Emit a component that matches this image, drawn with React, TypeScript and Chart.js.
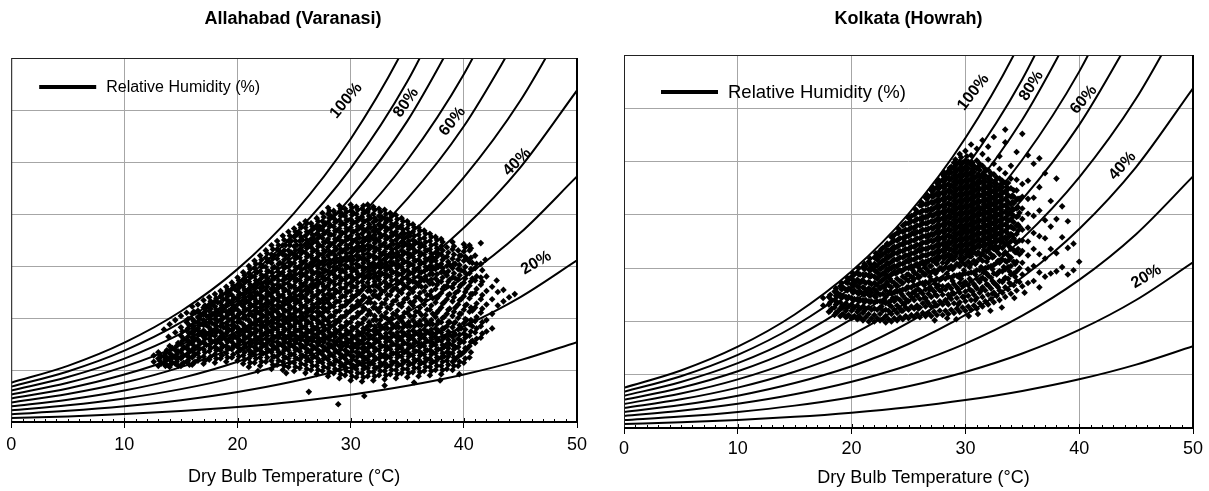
import React, { useEffect, useRef } from "react";
import { Chart, registerables } from "chart.js";

Chart.register(...registerables);

const FONT = "Arial, 'Liberation Sans', Helvetica, sans-serif";

// ---- axes ----
const tempMin = 0;
const tempMax = 50;
const tempStep = 10;
const humMin = 0; // humidity ratio, g/kg
const humMax = 35;
const humStep = 5;

// ---- relative humidity curves: humidity ratio (g/kg) at these dry-bulb temperatures ----
const curveTemps = [0, 5, 10, 15, 20, 25, 30, 35, 40, 45, 50];
const rhLevels = [100, 90, 80, 70, 60, 50, 40, 30, 20, 10];
const rh100 = [3.78, 5.4, 7.63, 10.65, 14.7, 20.09, 27.21, 36.58, 48.89];
const rh90 = [3.4, 4.86, 6.86, 9.57, 13.2, 18.02, 24.38, 32.73, 43.66];
const rh80 = [3.02, 4.32, 6.09, 8.49, 11.7, 15.97, 21.58, 28.93, 38.51];
const rh70 = [2.64, 3.77, 5.32, 7.42, 10.22, 13.93, 18.8, 25.17, 33.44, 44.15];
const rh60 = [2.26, 3.23, 4.56, 6.35, 8.74, 11.9, 16.05, 21.45, 28.44, 37.47];
const rh50 = [1.88, 2.69, 3.79, 5.28, 7.26, 9.88, 13.31, 17.77, 23.52, 30.91, 40.37];
const rh40 = [1.51, 2.15, 3.03, 4.22, 5.8, 7.88, 10.61, 14.14, 18.68, 24.49, 31.88];
const rh30 = [1.13, 1.61, 2.27, 3.16, 4.34, 5.89, 7.92, 10.54, 13.9, 18.19, 23.61];
const rh20 = [0.75, 1.07, 1.51, 2.1, 2.89, 3.92, 5.26, 6.99, 9.2, 12.01, 15.54];
const rh10 = [0.38, 0.54, 0.76, 1.05, 1.44, 1.95, 2.62, 3.48, 4.57, 5.95, 7.68];
const rhCurves = [rh100, rh90, rh80, rh70, rh60, rh50, rh40, rh30, rh20, rh10];

const curveLabelTexts = ["100%", "80%", "60%", "40%", "20%"];
const legendText = "Relative Humidity (%)";
const allahabadTitle = "Allahabad (Varanasi)";
const kolkataTitle = "Kolkata (Howrah)";
const xTitle = "Dry Bulb Temperature (°C)";

// ---- observations: each row = [dry bulb °C, humidity ratio g/kg, ...] ----
const allahabadObs = [
  [12.6, 5.8, 6.4],
  [13.0, 5.4, 6.1, 6.7],
  [13.5, 5.7, 6.3, 8.9],
  [14.0, 5.3, 6.0, 6.6, 7.3, 9.4],
  [14.5, 5.6, 6.2, 6.9, 8.6, 9.8],
  [15.0, 5.4, 6.1, 6.7, 7.5, 8.3, 9.1, 10.2],
  [15.5, 5.8, 6.4, 7.1, 7.9, 8.8, 9.6, 10.5],
  [16.0, 5.5, 6.2, 6.8, 7.5, 8.1, 8.7, 9.3, 9.9, 10.4, 11.1],
  [16.5, 5.9, 6.6, 7.3, 7.9, 8.4, 9.0, 9.6, 10.1, 10.7, 11.3],
  [17.0, 5.6, 6.3, 7.0, 7.7, 8.2, 8.8, 9.3, 9.8, 10.4, 11.0, 11.7],
  [17.5, 6.0, 6.8, 7.4, 8.0, 8.5, 9.1, 9.6, 10.2, 10.7, 11.3, 12.0],
  [18.0, 5.7, 6.5, 7.2, 7.8, 8.3, 8.9, 9.4, 9.9, 10.5, 11.1, 11.6, 12.3],
  [18.5, 6.1, 6.9, 7.6, 8.2, 8.7, 9.2, 9.8, 10.3, 10.9, 11.5, 12.1, 12.6],
  [19.0, 5.8, 6.6, 7.3, 7.9, 8.5, 9.0, 9.5, 10.1, 10.6, 11.2, 11.8, 12.4, 13.0],
  [19.5, 6.2, 7.0, 7.7, 8.3, 8.8, 9.3, 9.9, 10.4, 10.9, 11.5, 12.2, 12.8, 13.4],
  [20.0, 5.9, 6.7, 7.4, 8.0, 8.6, 9.1, 9.6, 10.2, 10.8, 11.3, 11.9, 12.6, 13.2, 13.9],
  [20.5, 5.6, 6.4, 7.1, 7.8, 8.4, 8.9, 9.4, 10.0, 10.5, 11.1, 11.7, 12.3, 13.0, 13.7, 14.4],
  [21.0, 5.3, 6.1, 6.9, 7.6, 8.2, 8.7, 9.2, 9.8, 10.3, 10.9, 11.5, 12.1, 12.8, 13.5, 14.3, 15.0],
  [21.5, 5.7, 6.5, 7.2, 7.9, 8.5, 9.0, 9.5, 10.1, 10.7, 11.3, 11.9, 12.5, 13.2, 14.0, 14.8, 15.5],
  [22.0, 5.4, 6.2, 6.9, 7.6, 8.2, 8.8, 9.3, 9.9, 10.4, 11.0, 11.6, 12.2, 12.9, 13.7, 14.5, 15.2, 16.0],
  [22.5, 5.8, 6.6, 7.3, 8.0, 8.6, 9.1, 9.7, 10.2, 10.8, 11.4, 12.0, 12.7, 13.4, 14.1, 14.9, 15.8, 16.5],
  [23.0, 5.1, 5.9, 6.7, 7.4, 8.0, 8.6, 9.2, 9.7, 10.3, 10.9, 11.5, 12.1, 12.8, 13.6, 14.4, 15.3, 16.1, 17.0],
  [23.5, 5.5, 6.3, 7.0, 7.7, 8.3, 8.9, 9.5, 10.0, 10.6, 11.2, 11.8, 12.5, 13.2, 14.0, 14.8, 15.7, 16.6, 17.4],
  [24.0, 5.0, 5.8, 6.6, 7.3, 8.0, 8.6, 9.2, 9.8, 10.3, 10.9, 11.5, 12.2, 12.9, 13.6, 14.4, 15.2, 16.1, 17.0, 17.9],
  [24.5, 5.3, 6.1, 6.9, 7.6, 8.3, 8.9, 9.5, 10.1, 10.7, 11.3, 11.9, 12.6, 13.3, 14.1, 14.9, 15.7, 16.5, 17.4, 18.3],
  [25.0, 4.9, 5.7, 6.5, 7.2, 7.9, 8.6, 9.2, 9.8, 10.4, 11.0, 11.7, 12.4, 13.1, 13.8, 14.5, 15.3, 16.1, 16.9, 17.8, 18.6],
  [25.5, 5.2, 6.0, 6.8, 7.5, 8.2, 8.9, 9.5, 10.1, 10.8, 11.5, 12.2, 12.9, 13.6, 14.3, 15.0, 15.8, 16.6, 17.4, 18.2, 19.0],
  [26.0, 4.7, 5.5, 6.3, 7.1, 7.8, 8.5, 9.2, 9.8, 10.5, 11.2, 11.9, 12.7, 13.4, 14.1, 14.8, 15.5, 16.3, 17.1, 17.9, 18.7, 19.3],
  [26.5, 5.0, 5.8, 6.6, 7.4, 8.1, 8.8, 9.5, 10.2, 10.9, 11.7, 12.5, 13.2, 13.9, 14.6, 15.3, 16.0, 16.8, 17.6, 18.4, 19.1],
  [27.0, 4.6, 5.4, 6.2, 7.0, 7.7, 8.4, 9.1, 9.8, 10.6, 11.4, 12.2, 13.0, 13.7, 14.4, 15.1, 15.8, 16.5, 17.3, 18.1, 18.9, 19.6],
  [27.5, 4.9, 5.7, 6.5, 7.3, 8.0, 8.7, 9.4, 10.2, 11.0, 11.8, 12.6, 13.3, 14.0, 14.7, 15.4, 16.1, 16.9, 17.7, 18.5, 19.3, 20.1],
  [28.0, 4.4, 5.2, 6.0, 6.8, 7.5, 8.2, 8.9, 9.7, 10.6, 11.5, 12.3, 13.1, 13.8, 14.5, 15.2, 16.0, 16.8, 17.6, 18.4, 19.2, 20.0, 20.6],
  [28.5, 4.7, 5.5, 6.3, 7.1, 7.8, 8.5, 9.3, 10.2, 11.1, 12.0, 12.8, 13.5, 14.2, 14.9, 15.6, 16.4, 17.2, 18.0, 18.8, 19.6, 20.3],
  [29.0, 4.2, 5.0, 5.8, 6.6, 7.3, 8.0, 8.8, 9.7, 10.7, 11.6, 12.5, 13.3, 14.0, 14.7, 15.4, 16.2, 17.0, 17.8, 18.6, 19.4, 20.2, 20.8],
  [29.5, 4.5, 5.3, 6.1, 6.9, 7.6, 8.4, 9.2, 10.2, 11.2, 12.1, 12.9, 13.7, 14.4, 15.1, 15.8, 16.6, 17.4, 18.2, 19.0, 19.8, 20.5],
  [30.0, 4.0, 4.8, 5.6, 6.4, 7.2, 7.9, 8.7, 9.6, 10.7, 11.7, 12.6, 13.4, 14.1, 14.8, 15.5, 16.3, 17.1, 17.9, 18.7, 19.5, 20.3, 20.9],
  [30.5, 4.3, 5.1, 5.9, 6.7, 7.5, 8.3, 9.1, 10.1, 11.2, 12.2, 13.0, 13.8, 14.5, 15.2, 16.0, 16.8, 17.6, 18.4, 19.2, 20.0, 20.7],
  [31.0, 3.9, 4.7, 5.5, 6.3, 7.1, 7.8, 8.6, 9.5, 10.6, 11.7, 12.7, 13.5, 14.2, 14.9, 15.7, 16.5, 17.3, 18.1, 18.9, 19.7, 20.5],
  [31.5, 4.4, 5.2, 6.0, 6.8, 7.6, 8.4, 9.2, 10.3, 11.5, 12.6, 13.4, 14.1, 14.8, 15.5, 16.2, 17.0, 17.8, 18.6, 19.4, 20.2, 20.9],
  [32.0, 4.0, 4.8, 5.6, 6.4, 7.2, 8.0, 8.8, 9.8, 11.0, 12.2, 13.1, 13.9, 14.6, 15.3, 16.0, 16.8, 17.6, 18.4, 19.2, 20.0, 20.7],
  [32.5, 4.5, 5.3, 6.1, 6.9, 7.7, 8.5, 9.4, 10.6, 11.9, 12.9, 13.7, 14.4, 15.1, 15.8, 16.6, 17.4, 18.2, 19.0, 19.8, 20.5],
  [33.0, 4.1, 4.9, 5.7, 6.5, 7.3, 8.1, 9.0, 10.1, 11.4, 12.6, 13.5, 14.2, 14.9, 15.6, 16.4, 17.2, 18.0, 18.8, 19.6, 20.4],
  [33.5, 4.6, 5.4, 6.2, 7.0, 7.8, 8.6, 9.6, 10.9, 12.2, 13.2, 14.0, 14.7, 15.4, 16.2, 17.0, 17.8, 18.6, 19.4, 20.1],
  [34.0, 4.2, 5.0, 5.8, 6.6, 7.4, 8.2, 9.1, 10.3, 11.7, 12.9, 13.7, 14.4, 15.1, 15.9, 16.7, 17.5, 18.3, 19.1, 19.9],
  [34.5, 4.7, 5.5, 6.3, 7.1, 7.9, 8.7, 9.7, 11.1, 12.4, 13.4, 14.2, 14.9, 15.7, 16.5, 17.3, 18.1, 18.9, 19.6],
  [35.0, 4.3, 5.1, 5.9, 6.7, 7.5, 8.3, 9.2, 10.5, 11.9, 13.0, 13.8, 14.6, 15.4, 16.2, 17.0, 17.8, 18.6, 19.3],
  [35.5, 4.8, 5.6, 6.4, 7.2, 8.0, 8.8, 9.8, 11.2, 12.5, 13.5, 14.3, 15.1, 15.9, 16.7, 17.5, 18.3, 19.0],
  [36.0, 4.4, 5.2, 6.0, 6.8, 7.6, 8.4, 9.3, 10.6, 12.0, 13.1, 14.0, 14.8, 15.6, 16.4, 17.2, 18.0, 18.7],
  [36.5, 4.9, 5.7, 6.5, 7.3, 8.1, 8.9, 9.9, 11.3, 12.6, 13.6, 14.5, 15.3, 16.1, 16.9, 17.7, 18.4],
  [37.0, 4.5, 5.3, 6.1, 6.9, 7.7, 8.5, 9.4, 10.8, 12.2, 13.3, 14.2, 15.0, 15.8, 16.6, 17.4, 18.1],
  [37.5, 5.0, 5.8, 6.6, 7.4, 8.2, 9.0, 10.1, 11.5, 12.8, 13.8, 14.7, 15.5, 16.3, 17.1, 17.8],
  [38.0, 4.6, 5.4, 6.2, 7.0, 7.8, 8.6, 9.6, 11.0, 12.4, 13.5, 14.4, 15.2, 16.1, 16.9, 17.6],
  [38.5, 5.1, 5.9, 6.7, 7.5, 8.3, 9.2, 10.4, 11.8, 13.1, 14.1, 15.0, 15.9, 16.8],
  [39.0, 5.0, 5.8, 6.6, 7.4, 8.2, 9.1, 10.2, 11.6, 12.9, 13.9, 14.8, 15.7, 16.6, 17.3],
  [39.5, 5.4, 6.3, 7.2, 8.0, 8.9, 10.0, 11.3, 12.6, 13.7, 14.7, 15.6, 16.5],
  [40.0, 5.7, 6.7, 7.7, 8.5, 9.5, 10.8, 12.1, 13.4, 14.5, 15.5, 16.4, 17.1],
  [40.5, 6.2, 7.3, 8.3, 9.4, 10.6, 11.9, 13.1, 14.3, 15.4, 16.5, 17.0],
  [41.0, 7.6, 8.6, 9.7, 11.0, 12.4, 13.6, 14.8, 16.0],
  [41.5, 8.1, 9.2, 10.5, 11.8, 13.2, 13.9, 15.2, 17.2],
  [42.0, 8.7, 9.8, 11.3, 12.6, 14.0],
  [42.5, 9.0, 10.4, 11.8, 13.0],
  [43.0, 11.2, 12.5],
  [43.5, 11.6, 12.7],
  [44.0, 12.0],
  [44.5, 12.3],
  [24.3, 4.7],
  [26.3, 2.9],
  [28.9, 1.7],
  [31.2, 2.5],
  [33.0, 3.5],
  [37.9, 4.0],
  [35.6, 3.8],
  [39.6, 4.6],
  [42.9, 13.6],
  [41.9, 15.6],
  [13.9, 8.2],
  [21.8, 4.9],
  [13.25, 5.6, 6.3],
  [13.75, 5.5, 6.2, 6.9],
  [14.25, 5.7, 6.4, 7.1],
  [14.75, 5.4, 6.1, 6.8, 7.6],
  [15.25, 5.7, 6.4, 7.2, 8.0],
  [15.75, 5.5, 6.2, 6.9, 7.7, 8.5, 9.3],
  [16.25, 5.8, 6.5, 7.2, 8.0, 8.8, 9.6, 10.5],
  [16.75, 7.6, 8.5, 9.4, 10.2],
  [17.25, 7.4, 8.4, 9.3, 10.2, 11.0],
  [17.75, 7.7, 8.6, 9.5, 10.4, 11.3],
  [18.25, 7.0, 7.9, 8.8, 9.7, 10.6, 11.5],
  [18.75, 7.3, 8.2, 9.1, 10.0, 10.9, 11.8],
  [19.25, 7.1, 8.0, 8.9, 9.8, 10.7, 11.6, 12.5],
  [19.75, 7.4, 8.3, 9.2, 10.1, 11.0, 11.9, 12.8],
  [20.25, 6.9, 7.8, 8.7, 9.6, 10.5, 11.4, 12.3, 13.2],
  [20.75, 7.2, 8.1, 9.0, 9.9, 10.8, 11.7, 12.6, 13.6],
  [21.25, 6.7, 7.6, 8.5, 9.4, 10.3, 11.2, 12.1, 13.0, 14.0],
  [21.75, 7.0, 7.9, 8.8, 9.7, 10.6, 11.5, 12.4, 13.4, 14.4],
  [22.25, 6.6, 7.5, 8.4, 9.3, 10.2, 11.1, 12.0, 13.0, 14.0, 15.0],
  [22.75, 6.9, 7.8, 8.7, 9.6, 10.5, 11.4, 12.4, 13.4, 14.5, 15.5],
  [23.25, 6.3, 7.2, 8.1, 9.0, 9.9, 10.8, 11.8, 12.8, 13.8, 14.9, 16.0],
  [23.75, 6.6, 7.5, 8.4, 9.3, 10.2, 11.1, 12.1, 13.1, 14.2, 15.3, 16.4],
  [24.25, 6.2, 7.1, 8.0, 8.9, 9.8, 10.7, 11.7, 12.7, 13.8, 14.9, 16.0, 17.0],
  [24.75, 6.5, 7.4, 8.3, 9.2, 10.1, 11.0, 12.0, 13.0, 14.1, 15.2, 16.3, 17.4],
  [25.25, 6.1, 7.0, 7.9, 8.8, 9.7, 10.7, 11.7, 12.7, 13.7, 14.8, 15.9, 17.0, 18.0],
  [25.75, 6.4, 7.3, 8.2, 9.1, 10.1, 11.1, 12.1, 13.1, 14.2, 15.3, 16.4, 17.5],
  [26.25, 6.0, 6.9, 7.8, 8.7, 9.6, 10.6, 11.6, 12.7, 13.8, 14.9, 16.0, 17.1, 18.2],
  [26.75, 6.3, 7.2, 8.1, 9.0, 10.0, 11.0, 12.1, 13.2, 14.3, 15.4, 16.5, 17.6, 18.6],
  [27.25, 5.9, 6.8, 7.7, 8.6, 9.6, 10.5, 11.5, 12.5, 13.4, 14.3, 15.2, 16.1, 17.0, 17.9, 18.8],
  [27.75, 6.2, 7.1, 8.0, 8.9, 9.9, 10.9, 11.9, 12.9, 13.7, 14.6, 15.5, 16.4, 17.3, 18.2, 19.1],
  [28.25, 5.6, 6.5, 7.4, 8.3, 9.2, 10.2, 11.2, 12.2, 13.5, 14.4, 15.3, 16.2, 17.1, 18.0, 18.9, 19.8],
  [28.75, 5.9, 6.8, 7.7, 8.6, 9.6, 10.6, 11.6, 12.6, 13.9, 14.8, 15.7, 16.6, 17.5, 18.4, 19.3],
  [29.25, 5.5, 6.4, 7.3, 8.2, 9.1, 10.1, 11.1, 12.1, 13.7, 14.6, 15.5, 16.4, 17.3, 18.2, 19.1, 20.0],
  [29.75, 5.8, 6.7, 7.6, 8.5, 9.5, 10.5, 11.5, 12.5, 14.0, 14.9, 15.8, 16.7, 17.6, 18.5, 19.4],
  [30.25, 5.4, 6.3, 7.2, 8.1, 9.0, 10.0, 11.0, 12.0, 13.0, 13.8, 14.7, 15.6, 16.5, 17.4, 18.3, 19.2, 20.1],
  [30.75, 5.7, 6.6, 7.5, 8.4, 9.4, 10.4, 11.4, 12.4, 14.1, 15.0, 15.9, 16.8, 17.7, 18.6, 19.5],
  [31.25, 5.3, 6.2, 7.1, 8.0, 8.9, 9.9, 10.9, 12.0, 13.0, 13.9, 14.8, 15.7, 16.6, 17.5, 18.4, 19.3, 20.2],
  [31.75, 5.6, 6.5, 7.4, 8.3, 9.3, 10.4, 11.5, 12.6, 14.2, 15.1, 16.0, 16.9, 17.8, 18.7, 19.6],
  [32.25, 5.2, 6.1, 7.0, 7.9, 8.8, 9.8, 10.9, 12.1, 13.1, 14.0, 14.9, 15.8, 16.7, 17.6, 18.5, 19.4],
  [32.75, 5.5, 6.4, 7.3, 8.2, 9.1, 10.2, 11.4, 12.6, 14.3, 15.2, 16.1, 17.0, 17.9, 18.8, 19.7],
  [33.25, 5.4, 6.3, 7.2, 8.1, 9.0, 9.9, 11.0, 12.2, 13.2, 14.1, 15.0, 15.9, 16.8, 17.7, 18.6, 19.5],
  [33.75, 5.7, 6.6, 7.5, 8.4, 9.3, 10.4, 11.6, 12.8, 14.4, 15.3, 16.2, 17.1, 18.0, 18.9],
  [34.25, 5.5, 6.4, 7.3, 8.2, 9.1, 10.0, 11.3, 12.6, 13.4, 14.2, 15.1, 16.0, 16.9, 17.8, 18.7],
  [34.75, 5.8, 6.7, 7.6, 8.5, 9.4, 10.5, 11.8, 13.1, 14.5, 15.4, 16.3, 17.2, 18.1],
  [35.25, 5.6, 6.5, 7.4, 8.3, 9.2, 10.2, 11.5, 12.8, 13.6, 14.3, 15.2, 16.1, 17.0, 17.9],
  [35.75, 5.9, 6.8, 7.7, 8.6, 9.5, 10.6, 12.0, 13.4, 14.6, 15.5, 16.4, 17.3],
  [36.25, 5.7, 6.6, 7.5, 8.4, 9.3, 10.3, 11.7, 13.0, 13.8, 14.4, 15.3, 16.2, 17.1],
  [36.75, 6.0, 6.9, 7.8, 8.7, 9.6, 10.8, 12.2, 13.6, 14.7, 15.6, 16.5],
  [37.25, 5.8, 6.7, 7.6, 8.5, 9.4, 10.4, 11.9, 13.3, 14.2, 14.9, 15.8],
  [37.75, 6.1, 7.0, 7.9, 8.8, 9.7, 10.7, 12.1, 13.5, 14.9, 16.2],
  [38.25, 6.3, 7.2, 8.1, 9.0, 10.1, 11.5, 13.0, 14.4, 15.8],
  [38.75, 6.6, 7.5, 8.4, 9.6, 10.9, 12.3, 13.7, 15.1],
  [39.25, 6.0, 7.2, 8.4, 9.6, 11.0, 12.4, 13.8, 15.2],
  [39.75, 6.5, 7.8, 9.0, 10.4, 11.8, 13.2, 14.6, 16.0],
  [40.25, 7.0, 8.3, 9.8, 11.3, 12.8, 14.2, 15.7],
  [40.75, 7.8, 9.2, 10.7, 12.3, 13.8, 15.3],
  [13.125, 5.9, 6.5],
  [13.625, 5.4, 6.0, 6.6],
  [14.125, 5.6, 6.3, 7.0],
  [14.625, 5.8, 6.5, 7.3],
  [15.125, 5.6, 6.3, 7.0, 7.8, 8.7],
  [15.625, 5.9, 6.6, 7.4, 8.2, 9.0, 9.9],
  [16.125, 5.7, 6.4, 7.1, 7.8, 8.4, 9.0, 9.7, 10.6],
  [16.625, 6.2, 7.0, 7.7, 8.7, 9.3, 9.9, 10.5],
  [17.125, 5.9, 6.7, 7.5, 8.0, 8.6, 9.6, 10.6, 11.2],
  [17.625, 6.3, 7.1, 7.8, 8.3, 8.9, 9.9, 10.9, 11.6],
  [18.125, 6.1, 6.9, 7.6, 8.6, 9.2, 10.2, 10.8, 11.9],
  [18.625, 6.4, 7.2, 8.0, 8.5, 9.5, 10.6, 11.2, 12.3],
  [19.125, 6.2, 7.0, 7.7, 8.7, 9.3, 10.3, 11.4, 12.1, 12.7],
  [19.625, 6.5, 7.3, 8.1, 9.0, 9.6, 10.7, 11.2, 11.8, 13.1],
  [20.125, 6.3, 7.1, 7.7, 8.3, 8.9, 9.9, 10.4, 11.6, 12.2, 12.9, 13.6],
  [20.625, 6.0, 6.7, 7.5, 8.1, 8.7, 9.2, 10.2, 10.8, 11.4, 12.0, 12.7, 13.4, 14.1],
  [21.125, 5.7, 6.5, 7.3, 7.9, 8.4, 9.0, 9.6, 10.6, 11.2, 11.8, 12.4, 13.2, 13.9, 14.7],
  [21.625, 6.1, 6.9, 7.5, 8.2, 8.7, 9.3, 9.8, 10.4, 11.0, 11.6, 12.2, 12.9, 13.6, 14.4, 15.2],
  [22.125, 5.8, 6.6, 7.2, 7.9, 8.5, 9.1, 9.6, 10.7, 11.3, 11.9, 12.6, 13.3, 14.1, 14.9, 15.6],
  [22.625, 6.2, 7.0, 7.6, 8.3, 8.9, 9.4, 10.0, 10.5, 11.1, 11.7, 12.3, 13.0, 13.8, 14.5, 15.4, 16.2],
  [23.125, 5.5, 6.3, 7.0, 7.7, 8.3, 8.9, 9.5, 10.1, 10.6, 11.2, 11.8, 12.5, 13.2, 14.0, 14.8, 15.7, 16.6],
  [23.625, 5.9, 6.7, 7.4, 8.1, 8.6, 9.2, 9.8, 10.4, 11.0, 11.6, 12.2, 12.9, 13.6, 14.4, 15.2, 16.1, 17.0],
  [24.125, 5.4, 6.2, 6.9, 7.7, 8.3, 8.9, 9.5, 10.1, 10.7, 11.3, 11.9, 12.6, 13.3, 14.0, 14.8, 15.6, 16.5, 17.5],
  [24.625, 5.7, 6.5, 7.3, 8.0, 8.6, 9.2, 9.8, 10.4, 11.0, 11.6, 12.3, 13.0, 13.7, 14.5, 15.3, 16.1, 17.0, 17.9],
  [25.125, 5.3, 6.1, 6.9, 7.6, 8.3, 8.9, 9.5, 10.1, 10.7, 11.4, 12.1, 12.8, 13.5, 14.2, 14.9, 15.7, 16.5, 17.4, 18.3],
  [25.625, 5.6, 6.4, 7.2, 7.9, 8.6, 9.2, 9.8, 10.5, 11.2, 11.9, 12.6, 13.3, 14.0, 14.7, 15.4, 16.2, 17.0, 17.8, 18.7],
  [26.125, 5.1, 5.9, 6.7, 7.5, 8.2, 8.9, 9.5, 10.2, 10.9, 11.6, 12.3, 13.0, 13.7, 14.4, 15.1, 15.9, 16.7, 17.5, 18.3, 19.1],
  [26.625, 5.4, 6.2, 7.0, 7.8, 8.5, 9.2, 9.9, 10.6, 11.3, 12.1, 12.9, 13.6, 14.3, 15.0, 15.7, 16.4, 17.2, 18.0, 18.8],
  [27.125, 5.0, 5.8, 6.6, 7.4, 8.1, 8.8, 9.5, 10.2, 11.0, 11.8, 12.6, 13.3, 14.0, 14.8, 15.5, 16.2, 16.9, 17.7, 18.5, 19.3],
  [27.625, 5.3, 6.1, 6.9, 7.7, 8.4, 9.1, 9.8, 10.6, 11.4, 12.2, 13.0, 13.7, 14.4, 15.1, 15.8, 16.5, 17.3, 18.1, 18.9, 19.7],
  [28.125, 4.8, 5.6, 6.4, 7.2, 7.9, 8.6, 9.3, 10.1, 11.0, 11.9, 12.7, 13.4, 14.2, 14.9, 15.6, 16.4, 17.2, 18.0, 18.8, 19.6, 20.3],
  [28.625, 5.1, 5.9, 6.7, 7.5, 8.2, 8.9, 9.7, 10.6, 11.5, 12.4, 13.2, 13.9, 14.6, 15.3, 16.0, 16.8, 17.6, 18.4, 19.2, 20.0],
  [29.125, 4.6, 5.4, 6.2, 7.0, 7.7, 8.4, 9.2, 10.1, 11.1, 12.0, 12.9, 13.6, 14.4, 15.1, 15.8, 16.6, 17.4, 18.2, 19.0, 19.8, 20.5],
  [29.625, 4.9, 5.7, 6.5, 7.3, 8.0, 8.8, 9.6, 10.6, 11.6, 12.5, 13.3, 14.0, 14.8, 15.5, 16.2, 17.0, 17.8, 18.6, 19.4, 20.2],
  [30.125, 4.4, 5.2, 6.0, 6.8, 7.6, 8.3, 9.1, 10.0, 11.1, 12.1, 13.0, 13.8, 14.5, 15.2, 15.9, 16.7, 17.5, 18.3, 19.1, 19.9, 20.6],
  [30.625, 4.7, 5.5, 6.3, 7.1, 7.9, 8.7, 9.5, 10.5, 11.6, 12.6, 13.4, 14.2, 14.9, 15.6, 16.4, 17.2, 18.0, 18.8, 19.6, 20.4],
  [31.125, 4.3, 5.1, 5.9, 6.7, 7.5, 8.2, 9.0, 9.9, 11.0, 12.1, 13.1, 13.9, 14.6, 15.3, 16.1, 16.9, 17.7, 18.5, 19.3, 20.1, 20.8],
  [31.625, 4.8, 5.6, 6.4, 7.2, 8.0, 8.8, 9.6, 10.7, 11.9, 13.0, 13.8, 14.5, 15.2, 15.9, 16.6, 17.4, 18.2, 19.0, 19.8, 20.5],
  [32.125, 4.4, 5.2, 6.0, 6.8, 7.6, 8.4, 9.2, 10.2, 11.4, 12.6, 13.5, 14.3, 15.0, 15.7, 16.4, 17.2, 18.0, 18.8, 19.6, 20.4],
  [32.625, 4.9, 5.7, 6.5, 7.3, 8.1, 8.9, 9.8, 11.0, 12.3, 13.3, 14.1, 14.8, 15.5, 16.2, 17.0, 17.8, 18.6, 19.4, 20.2],
  [33.125, 4.5, 5.3, 6.1, 6.9, 7.7, 8.5, 9.4, 10.5, 11.8, 13.0, 13.9, 14.6, 15.3, 16.0, 16.8, 17.6, 18.4, 19.2, 20.0],
  [33.625, 5.0, 5.8, 6.6, 7.4, 8.2, 9.0, 10.0, 11.3, 12.6, 13.6, 14.4, 15.1, 15.8, 16.6, 17.4, 18.2, 19.0, 19.8],
  [34.125, 4.6, 5.4, 6.2, 7.0, 7.8, 8.6, 9.5, 10.7, 12.1, 13.3, 14.1, 14.8, 15.5, 16.3, 17.1, 17.9, 18.7, 19.5],
  [34.625, 5.1, 5.9, 6.7, 7.5, 8.3, 9.1, 10.1, 11.5, 12.8, 13.8, 14.6, 15.3, 16.1, 16.9, 17.7, 18.5, 19.3],
  [35.125, 4.7, 5.5, 6.3, 7.1, 7.9, 8.7, 9.6, 10.9, 12.3, 13.4, 14.2, 15.0, 15.8, 16.6, 17.4, 18.2, 19.0],
  [35.625, 5.2, 6.0, 6.8, 7.6, 8.4, 9.2, 10.2, 11.6, 12.9, 13.9, 14.7, 15.5, 16.3, 17.1, 17.9, 18.7],
  [36.125, 4.8, 5.6, 6.4, 7.2, 8.0, 8.8, 9.7, 11.0, 12.4, 13.5, 14.4, 15.2, 16.0, 16.8, 17.6, 18.4],
  [36.625, 5.3, 6.1, 6.9, 7.7, 8.5, 9.3, 10.3, 11.7, 13.0, 14.0, 14.9, 15.7, 16.5, 17.3, 18.1],
  [37.125, 4.9, 5.7, 6.5, 7.3, 8.1, 8.9, 9.8, 11.2, 12.6, 13.7, 14.6, 15.4, 16.2, 17.0, 17.8],
  [37.625, 5.4, 6.2, 7.0, 7.8, 8.6, 9.4, 10.5, 11.9, 13.2, 14.2, 15.1, 15.9, 16.7, 17.5],
  [38.125, 5.0, 5.8, 6.6, 7.4, 8.2, 9.0, 10.0, 11.4, 12.8, 13.9, 14.8, 15.6, 16.5, 17.3],
  [38.625, 5.5, 6.3, 7.1, 7.9, 8.7, 9.6, 10.8, 12.2, 13.5, 14.5, 15.4, 16.3],
  [39.125, 5.4, 6.2, 7.0, 7.8, 8.6, 9.5, 10.6, 12.0, 13.3, 14.3, 15.2, 16.1, 16.9],
  [39.625, 5.8, 6.7, 7.6, 8.4, 9.3, 10.4, 11.7, 13.0, 14.1, 15.1, 16.0],
  [40.125, 6.1, 7.1, 8.1, 8.9, 9.9, 11.2, 12.5, 13.8, 14.9, 15.9, 16.8],
  [40.625, 6.7, 7.7, 8.7, 9.8, 11.0, 12.3, 13.5, 14.7, 15.8, 16.7],
  [41.125, 8.0, 9.0, 10.1, 11.4, 12.8, 14.0, 15.2],
  [41.625, 8.5, 9.6, 10.9, 12.2, 13.5, 14.6],
];

const kolkataObs = [
  [17.5, 11.5, 12.2],
  [18.0, 10.9, 11.6, 12.3],
  [18.5, 10.6, 11.3, 12.0, 12.8],
  [19.0, 10.5, 11.2, 11.8, 12.5, 13.3],
  [19.5, 10.4, 11.0, 11.7, 12.3, 13.0, 13.7],
  [20.0, 10.3, 11.0, 11.6, 12.2, 12.9, 13.5, 14.2],
  [20.5, 10.2, 10.9, 11.5, 12.1, 12.7, 13.3, 13.9, 14.6],
  [21.0, 10.1, 10.8, 11.4, 12.0, 12.6, 13.2, 13.8, 14.4, 15.1],
  [21.5, 10.0, 10.7, 11.3, 11.9, 12.5, 13.1, 13.7, 14.3, 14.9, 15.6],
  [22.0, 10.0, 10.6, 11.2, 11.8, 12.4, 13.0, 13.6, 14.2, 14.8, 15.4, 16.0],
  [22.5, 10.1, 10.7, 11.3, 11.9, 12.5, 13.1, 13.7, 14.3, 14.9, 15.5, 16.1, 16.6],
  [23.0, 9.9, 10.5, 11.1, 11.7, 12.3, 12.9, 13.5, 14.1, 14.7, 15.3, 15.9, 16.5, 17.1],
  [23.5, 10.0, 10.7, 11.4, 12.0, 12.6, 13.2, 13.8, 14.4, 15.0, 15.6, 16.2, 16.8, 17.4, 17.9],
  [24.0, 10.1, 10.8, 11.5, 12.2, 12.8, 13.4, 14.0, 14.6, 15.2, 15.8, 16.4, 17.0, 17.6, 18.3],
  [24.5, 10.2, 11.0, 11.7, 12.4, 13.0, 13.6, 14.2, 14.8, 15.4, 16.0, 16.6, 17.2, 17.8, 18.4, 19.0],
  [25.0, 10.3, 11.1, 11.9, 12.6, 13.2, 13.8, 14.4, 15.0, 15.6, 16.2, 16.8, 17.4, 18.0, 18.6, 19.2, 19.7],
  [25.5, 10.4, 11.2, 12.0, 12.7, 13.4, 14.0, 14.6, 15.2, 15.8, 16.4, 17.0, 17.6, 18.2, 18.8, 19.4, 20.0],
  [26.0, 10.4, 11.3, 12.1, 12.9, 13.6, 14.2, 14.8, 15.4, 16.0, 16.6, 17.2, 17.8, 18.4, 19.0, 19.6, 20.2, 20.9],
  [26.5, 10.5, 11.4, 12.2, 13.0, 13.7, 14.4, 15.0, 15.6, 16.2, 16.8, 17.4, 18.0, 18.6, 19.2, 19.8, 20.4, 21.0, 21.6],
  [27.0, 10.5, 11.4, 12.3, 13.1, 13.9, 14.6, 15.2, 15.8, 16.4, 17.0, 17.6, 18.2, 18.8, 19.4, 20.0, 20.6, 21.2, 21.8, 22.3],
  [27.5, 10.6, 11.5, 12.4, 13.2, 14.0, 14.7, 15.4, 16.0, 16.6, 17.2, 17.8, 18.4, 19.0, 19.6, 20.2, 20.8, 21.4, 22.0, 22.6, 23.0],
  [28.0, 10.6, 11.6, 12.5, 13.3, 14.1, 14.8, 15.5, 16.1, 16.7, 17.3, 17.9, 18.5, 19.1, 19.7, 20.3, 20.9, 21.5, 22.1, 22.7, 23.3, 23.8],
  [28.5, 10.7, 11.6, 12.5, 13.4, 14.2, 15.0, 15.7, 16.3, 16.9, 17.5, 18.1, 18.7, 19.3, 19.9, 20.5, 21.1, 21.7, 22.3, 22.9, 23.5, 24.1],
  [29.0, 10.8, 11.7, 12.6, 13.5, 14.3, 15.1, 15.8, 16.5, 17.1, 17.7, 18.3, 18.9, 19.5, 20.1, 20.7, 21.3, 21.9, 22.5, 23.1, 23.7, 24.3, 24.9],
  [29.5, 10.9, 11.8, 12.7, 13.6, 14.4, 15.2, 15.9, 16.6, 17.2, 17.8, 18.4, 19.0, 19.6, 20.2, 20.8, 21.4, 22.0, 22.6, 23.2, 23.8, 24.4, 25.0, 25.7],
  [30.0, 11.0, 11.9, 12.8, 13.7, 14.5, 15.3, 16.0, 16.7, 17.3, 17.9, 18.5, 19.1, 19.7, 20.3, 20.9, 21.5, 22.1, 22.7, 23.3, 23.9, 24.5, 25.1, 26.0],
  [30.5, 11.1, 12.0, 12.9, 13.8, 14.6, 15.4, 16.1, 16.8, 17.4, 18.0, 18.6, 19.2, 19.8, 20.4, 21.0, 21.6, 22.2, 22.8, 23.4, 24.0, 24.7, 25.6, 26.6],
  [31.0, 11.2, 12.2, 13.1, 14.0, 14.8, 15.6, 16.3, 17.0, 17.6, 18.2, 18.8, 19.4, 20.0, 20.6, 21.2, 21.8, 22.4, 23.0, 23.6, 24.3, 25.1, 26.2],
  [31.5, 11.4, 12.3, 13.2, 14.1, 14.9, 15.7, 16.4, 17.1, 17.7, 18.3, 18.9, 19.5, 20.1, 20.7, 21.3, 21.9, 22.5, 23.1, 23.8, 24.6, 25.7, 27.0],
  [32.0, 11.6, 12.5, 13.4, 14.3, 15.1, 15.9, 16.6, 17.3, 17.9, 18.5, 19.1, 19.7, 20.3, 20.9, 21.5, 22.1, 22.7, 23.4, 24.2, 25.2, 26.4],
  [32.5, 11.8, 12.7, 13.6, 14.5, 15.3, 16.1, 16.8, 17.5, 18.1, 18.7, 19.3, 19.9, 20.5, 21.1, 21.7, 22.3, 23.0, 23.8, 24.8, 27.3],
  [33.0, 12.0, 12.9, 13.8, 14.7, 15.5, 16.3, 17.0, 17.7, 18.3, 18.9, 19.5, 20.1, 20.7, 21.3, 21.9, 22.6, 23.4, 24.3, 25.5],
  [33.5, 12.3, 13.2, 14.1, 14.9, 15.7, 16.5, 17.2, 17.9, 18.5, 19.1, 19.7, 20.3, 20.9, 21.5, 22.2, 23.0, 23.9, 26.8, 28.0],
  [34.0, 12.6, 13.5, 14.4, 15.2, 16.0, 16.8, 17.5, 18.2, 18.9, 19.6, 20.3, 21.0, 21.7, 22.5, 23.4, 24.6],
  [34.5, 12.9, 13.8, 14.7, 15.6, 16.5, 17.4, 18.2, 19.0, 19.8, 20.6, 21.4, 22.3, 23.3, 25.9],
  [35.0, 13.3, 14.4, 15.5, 16.6, 17.6, 18.6, 19.6, 20.6, 21.7, 22.9, 27.6],
  [35.5, 13.6, 14.9, 16.2, 17.5, 18.8, 20.1, 21.5, 23.2, 25.6],
  [36.0, 13.8, 15.2, 16.8, 18.3, 19.9, 21.6, 24.8],
  [36.5, 13.2, 14.6, 16.3, 18.0, 20.4, 22.6, 25.3],
  [37.0, 14.2, 15.9, 17.8, 19.5, 23.9],
  [37.5, 14.5, 16.8, 18.9, 21.3],
  [38.0, 14.7, 16.4, 19.6, 23.4],
  [38.5, 15.1, 17.9, 20.8],
  [39.0, 14.4, 16.9, 19.4],
  [39.5, 14.8, 17.3],
  [40.0, 15.6],
  [27.3, 10.1],
  [28.4, 10.3],
  [29.2, 10.2],
  [30.3, 10.5],
  [31.1, 10.7],
  [32.2, 11.0],
  [33.2, 11.3],
  [34.3, 12.2],
  [35.2, 12.7],
  [18.25, 11.2, 12.0],
  [18.75, 10.9, 11.8, 12.7],
  [19.25, 10.7, 11.5, 12.4, 13.2],
  [19.75, 10.6, 11.4, 12.3, 13.1, 13.9],
  [20.25, 10.5, 11.3, 12.1, 12.9, 13.7, 14.4],
  [20.75, 10.4, 11.2, 12.0, 12.8, 13.6, 14.4],
  [21.25, 10.4, 11.2, 12.0, 12.8, 13.6, 14.4, 15.2],
  [21.75, 10.3, 11.1, 11.9, 12.7, 13.5, 14.3, 15.1],
  [22.25, 10.3, 11.1, 11.9, 12.7, 13.4, 14.0, 14.6, 15.2, 15.8, 16.3],
  [22.75, 10.2, 11.0, 11.8, 12.6, 13.3, 13.9, 14.5, 15.1, 15.7, 16.3, 16.9],
  [23.25, 10.2, 11.0, 11.8, 12.6, 13.4, 14.2, 14.8, 15.4, 16.0, 16.6, 17.2],
  [23.75, 10.3, 11.1, 11.9, 12.7, 13.6, 14.6, 15.2, 15.8, 16.4, 17.0, 17.6, 18.1],
  [24.25, 10.4, 11.2, 12.0, 12.9, 13.8, 14.8, 15.4, 16.0, 16.6, 17.2, 17.8, 18.5],
  [24.75, 10.5, 11.3, 12.1, 13.0, 14.0, 15.0, 15.6, 16.2, 16.8, 17.4, 18.0, 18.6, 19.2],
  [25.25, 10.6, 11.4, 12.3, 13.2, 14.2, 15.2, 15.8, 16.4, 17.0, 17.6, 18.2, 18.8, 19.4, 19.9],
  [25.75, 10.7, 11.5, 12.4, 13.4, 14.4, 15.4, 16.0, 16.6, 17.2, 17.8, 18.4, 19.0, 19.6, 20.3],
  [26.25, 10.8, 11.7, 12.6, 13.6, 14.6, 15.6, 16.2, 16.8, 17.4, 18.0, 18.6, 19.2, 19.8, 20.4, 21.0],
  [26.75, 10.8, 11.7, 12.6, 13.6, 14.7, 15.7, 16.3, 16.9, 17.5, 18.1, 18.7, 19.3, 19.9, 20.5, 21.1, 21.7],
  [27.25, 10.9, 11.8, 12.8, 13.8, 14.8, 15.8, 16.4, 17.0, 17.6, 18.2, 18.8, 19.4, 20.0, 20.6, 21.2, 21.8, 22.4],
  [27.75, 11.0, 11.9, 12.9, 13.9, 15.0, 16.0, 16.6, 17.2, 17.8, 18.4, 19.0, 19.6, 20.2, 20.8, 21.4, 22.0, 22.6, 23.1],
  [28.25, 11.0, 12.0, 13.0, 14.0, 15.1, 16.1, 16.7, 17.3, 17.9, 18.5, 19.1, 19.7, 20.3, 20.9, 21.5, 22.1, 22.7, 23.3, 23.8],
  [28.75, 11.1, 12.1, 13.1, 14.1, 15.2, 16.2, 16.8, 17.4, 18.0, 18.6, 19.2, 19.8, 20.4, 21.0, 21.6, 22.2, 22.8, 23.4, 24.0, 24.5],
  [29.25, 11.2, 12.2, 13.2, 14.3, 15.4, 16.4, 17.0, 17.6, 18.2, 18.8, 19.4, 20.0, 20.6, 21.2, 21.8, 22.4, 23.0, 23.6, 24.2, 24.8],
  [29.75, 11.3, 12.3, 13.3, 14.4, 15.5, 16.5, 17.1, 17.7, 18.3, 18.9, 19.5, 20.1, 20.7, 21.3, 21.9, 22.5, 23.1, 23.7, 24.3, 24.9],
  [30.25, 11.4, 12.4, 13.4, 14.5, 15.6, 16.6, 17.2, 17.8, 18.4, 19.0, 19.6, 20.2, 20.8, 21.4, 22.0, 22.6, 23.2, 23.8, 24.4, 25.0],
  [30.75, 11.5, 12.5, 13.5, 14.6, 15.7, 16.8, 17.4, 18.0, 18.6, 19.2, 19.8, 20.4, 21.0, 21.6, 22.2, 22.8, 23.4, 24.0, 24.6],
  [31.25, 11.7, 12.7, 13.7, 14.8, 15.9, 17.0, 17.6, 18.2, 18.8, 19.4, 20.0, 20.6, 21.2, 21.8, 22.4, 23.0, 23.6, 24.2, 24.8],
  [31.75, 11.9, 12.9, 13.9, 15.0, 16.1, 17.1, 17.7, 18.3, 18.9, 19.5, 20.1, 20.7, 21.3, 21.9, 22.5, 23.1, 23.7, 24.3],
  [32.25, 12.1, 13.1, 14.1, 15.2, 16.3, 17.3, 17.9, 18.5, 19.1, 19.7, 20.3, 20.9, 21.5, 22.1, 22.7, 23.3, 23.9],
  [32.75, 12.4, 13.4, 14.4, 15.5, 16.6, 17.5, 18.1, 18.7, 19.3, 19.9, 20.5, 21.1, 21.7, 22.3, 22.9, 23.5],
  [33.25, 12.7, 13.7, 14.7, 15.8, 16.9, 17.8, 18.4, 19.0, 19.6, 20.2, 20.8, 21.4, 22.0, 22.6, 23.2],
  [33.75, 13.0, 14.0, 15.1, 16.2, 17.3, 18.2, 18.8, 19.4, 20.0, 20.6, 21.2, 21.8, 22.4, 23.0],
  [34.25, 13.4, 14.5, 15.6, 16.7, 17.8, 18.7, 19.3, 19.9, 20.5, 21.1, 21.7, 22.3],
  [34.75, 13.7, 15.0, 16.3, 17.6, 18.9, 20.2, 21.5],
  [18.125, 11.0, 11.8, 12.5],
  [18.625, 10.8, 11.6, 12.4, 13.1],
  [19.125, 10.6, 11.4, 12.2, 13.0, 13.6],
  [19.625, 10.5, 11.3, 12.1, 12.9, 13.6, 14.1],
  [20.125, 10.4, 11.2, 12.0, 12.7, 13.3, 13.9, 14.5],
  [20.625, 10.3, 11.1, 11.9, 12.6, 13.2, 13.8, 14.4, 15.0],
  [21.125, 11.0, 11.8, 12.5, 13.1, 13.7, 14.3, 14.9, 15.4],
  [21.625, 11.8, 12.4, 13.0, 13.6, 14.2, 14.8, 15.4, 15.9],
  [22.125, 12.3, 12.9, 13.5, 14.1, 14.7, 15.3, 15.9, 16.4],
  [22.625, 11.4, 13.2, 13.8, 14.4, 15.0, 15.6, 16.2, 16.8],
  [23.125, 13.7, 14.3, 14.9, 15.5, 16.1, 16.7, 17.3],
  [23.625, 12.2, 14.5, 15.1, 15.7, 16.3, 16.9, 17.5, 18.0],
  [24.125, 14.7, 15.3, 15.9, 16.5, 17.1, 17.7, 18.3, 18.7],
  [24.625, 11.6, 14.9, 15.5, 16.1, 16.7, 17.3, 17.9, 18.5, 19.1],
  [25.125, 15.1, 15.7, 16.3, 16.9, 17.5, 18.1, 18.7, 19.3, 19.8],
  [25.625, 12.9, 15.3, 15.9, 16.5, 17.1, 17.7, 18.3, 18.9, 19.5, 20.1, 20.5],
  [26.125, 15.5, 16.1, 16.7, 17.3, 17.9, 18.5, 19.1, 19.7, 20.3, 20.9, 21.2],
  [26.625, 11.9, 15.6, 16.2, 16.8, 17.4, 18.0, 18.6, 19.2, 19.8, 20.4, 21.0, 21.5, 21.9],
  [27.125, 15.7, 16.3, 16.9, 17.5, 18.1, 18.7, 19.3, 19.9, 20.5, 21.1, 21.7, 22.2, 22.6],
  [27.625, 13.4, 15.8, 16.4, 17.0, 17.6, 18.2, 18.8, 19.4, 20.0, 20.6, 21.2, 21.8, 22.4, 22.9, 23.3],
  [28.125, 15.9, 16.5, 17.1, 17.7, 18.3, 18.9, 19.5, 20.1, 20.7, 21.3, 21.9, 22.5, 23.1, 23.6, 24.0],
  [28.625, 12.3, 16.0, 16.7, 17.3, 17.9, 18.5, 19.1, 19.7, 20.3, 20.9, 21.5, 22.1, 22.7, 23.3, 23.9, 24.4],
  [29.125, 16.1, 16.8, 17.4, 18.0, 18.6, 19.2, 19.8, 20.4, 21.0, 21.6, 22.2, 22.8, 23.4, 24.0, 24.6, 25.2],
  [29.625, 14.0, 16.2, 16.9, 17.5, 18.1, 18.7, 19.3, 19.9, 20.5, 21.1, 21.7, 22.3, 22.9, 23.5, 24.1, 24.7, 25.4],
  [30.125, 16.3, 17.0, 17.6, 18.2, 18.8, 19.4, 20.0, 20.6, 21.2, 21.8, 22.4, 23.0, 23.6, 24.2, 24.8, 25.5],
  [30.625, 12.8, 16.4, 17.1, 17.7, 18.3, 18.9, 19.5, 20.1, 20.7, 21.3, 21.9, 22.5, 23.1, 23.7, 24.3, 24.9],
  [31.125, 16.5, 17.2, 17.8, 18.4, 19.0, 19.6, 20.2, 20.8, 21.4, 22.0, 22.6, 23.2, 23.8, 24.5],
  [31.625, 14.6, 16.7, 17.4, 18.0, 18.6, 19.2, 19.8, 20.4, 21.0, 21.6, 22.2, 22.8, 23.4, 24.0],
  [32.125, 16.9, 17.6, 18.2, 18.8, 19.4, 20.0, 20.6, 21.2, 21.8, 22.4, 23.0, 23.6],
  [32.625, 13.5, 17.1, 17.8, 18.4, 19.0, 19.6, 20.2, 20.8, 21.4, 22.0, 22.6, 23.2],
  [33.125, 17.4, 18.1, 18.7, 19.3, 19.9, 20.5, 21.1, 21.7, 22.3, 22.9],
  [33.625, 15.6, 17.7, 18.4, 19.0, 19.6, 20.2, 20.8, 21.4, 22.0, 22.6],
  [34.125, 18.1, 18.8, 19.4, 20.0, 20.6, 21.2, 21.8],
  [34.625, 16.8, 18.5, 19.1, 19.9, 20.7, 21.5],
  [22.875, 12.0, 13.2, 14.4],
  [23.375, 11.5, 12.8, 14.0, 15.0],
  [23.875, 12.2, 13.4, 14.5],
  [24.375, 11.0, 12.6, 13.7, 14.7],
  [24.875, 11.9, 13.2, 14.4],
  [25.375, 12.7, 13.8, 14.8],
  [25.875, 11.2, 13.0, 14.1, 15.1],
  [26.375, 12.2, 13.4, 14.4, 15.3],
  [26.875, 13.0, 14.2, 15.2],
  [27.375, 11.5, 12.5, 13.5, 14.5, 15.5],
  [27.875, 12.9, 14.0, 15.0],
  [28.375, 11.8, 13.3, 14.5, 15.5],
  [28.875, 12.7, 13.8, 14.9, 15.8],
  [29.375, 11.6, 13.0, 14.2, 15.3],
  [29.875, 12.3, 13.6, 14.8, 15.9],
  [30.375, 13.0, 14.0, 15.1, 16.1],
  [30.875, 12.0, 13.3, 14.4, 15.4, 16.4],
  [31.375, 12.9, 14.0, 15.1, 16.2],
  [31.875, 13.5, 14.5, 15.6, 16.6],
  [32.375, 12.6, 13.8, 14.9, 16.0, 16.9],
  [32.875, 13.2, 14.6, 15.7, 16.9],
  [33.375, 13.9, 15.1, 16.3, 17.4],
  [33.875, 13.6, 14.7, 15.8, 17.0, 18.0],
  [34.375, 14.2, 15.4, 16.5, 17.5],
];

// curve label anchors (°C, g/kg) and angles (deg, counter-clockwise)
const allahabadLabelAnchors = [
  [29.6, 30.9, 50],
  [34.9, 30.7, 55],
  [39.0, 28.9, 51],
  [44.7, 25.0, 45],
  [46.4, 15.3, 30],
];
const kolkataLabelAnchors = [
  [30.7, 31.5, 52],
  [35.8, 32.1, 58],
  [40.4, 30.8, 50],
  [43.8, 24.6, 48],
  [45.9, 14.2, 30],
];

function rowsToPoints(rows: number[][]) {
  const pts: { x: number; y: number }[] = [];
  for (const r of rows) for (let i = 1; i < r.length; i++) pts.push({ x: r[0], y: r[i] });
  return pts;
}

type Panel = {
  title: string;
  obs: number[][];
  anchors: number[][];
  left: number;
  width: number;
  padding: { left: number; right: number; top: number; bottom: number };
  titlePad: { top: number; bottom: number };
  tickPad: number;
  xTitle: { dx: number; y: number };
  legend: { dx: number; dy: number; len: number; gap: number; size: number };
};

const panels: Panel[] = [
  {
    title: allahabadTitle,
    obs: allahabadObs,
    anchors: allahabadLabelAnchors,
    left: 0,
    width: 596,
    padding: { left: 9, right: 19, top: 0, bottom: 29 },
    titlePad: { top: 8, bottom: 28.4 },
    tickPad: 6.2,
    xTitle: { dx: 0, y: 477 },
    legend: { dx: 28, dy: 29, len: 57, gap: 10, size: 16 },
  },
  {
    title: kolkataTitle,
    obs: kolkataObs,
    anchors: kolkataLabelAnchors,
    left: 604,
    width: 605,
    padding: { left: 20, right: 16, top: 0, bottom: 27 },
    titlePad: { top: 8, bottom: 25.4 },
    tickPad: 4.2,
    xTitle: { dx: 15, y: 478 },
    legend: { dx: 37, dy: 37, len: 57, gap: 10, size: 18.5 },
  },
];

function makeOverlay(p: Panel) {
  return {
    id: "overlay",
    afterDatasetsDraw(chart: any) {
      const { ctx, chartArea: a, scales } = chart;
      const xs = scales.x;
      const ys = scales.y;
      ctx.save();
      // minor ticks (inside)
      ctx.strokeStyle = "#000";
      ctx.lineWidth = 1;
      for (let t = tempMin; t <= tempMax; t += 1) {
        const px = Math.round(xs.getPixelForValue(t)) + 0.5;
        const len = t % tempStep === 0 ? 4 : 3;
        ctx.beginPath();
        ctx.moveTo(px, a.bottom);
        ctx.lineTo(px, a.bottom - len);
        ctx.stroke();
      }
      // frame
      ctx.strokeStyle = "#222";
      ctx.lineWidth = 1;
      ctx.strokeRect(a.left + 0.5, a.top + 0.5, a.right - a.left - 1, a.bottom - a.top);
      ctx.strokeStyle = "#000";
      ctx.lineWidth = 2;
      ctx.beginPath();
      ctx.moveTo(a.left, a.bottom);
      ctx.lineTo(a.right + 1, a.bottom);
      ctx.moveTo(a.right, a.top);
      ctx.lineTo(a.right, a.bottom);
      ctx.stroke();
      // curve labels
      ctx.fillStyle = "#000";
      ctx.font = `bold 16px ${FONT}`;
      ctx.textAlign = "center";
      ctx.textBaseline = "middle";
      p.anchors.forEach((an, i) => {
        const px = xs.getPixelForValue(an[0]);
        const py = ys.getPixelForValue(an[1]);
        ctx.save();
        ctx.translate(px, py);
        ctx.rotate((-an[2] * Math.PI) / 180);
        ctx.fillText(curveLabelTexts[i], 0, 0);
        ctx.restore();
      });
      // legend
      const lg = p.legend;
      const ly = a.top + lg.dy;
      ctx.lineWidth = 4;
      ctx.beginPath();
      ctx.moveTo(a.left + lg.dx, ly);
      ctx.lineTo(a.left + lg.dx + lg.len, ly);
      ctx.stroke();
      ctx.font = `${lg.size}px ${FONT}`;
      ctx.textAlign = "left";
      ctx.fillText(legendText, a.left + lg.dx + lg.len + lg.gap, ly + 1);
      // x axis title
      ctx.font = `18px ${FONT}`;
      ctx.textAlign = "center";
      ctx.fillText(xTitle, (a.left + a.right) / 2 + p.xTitle.dx, p.xTitle.y);
      ctx.restore();
    },
  };
}

function buildConfig(p: Panel): any {
  const curveSets = rhCurves.map((ws, i) => ({
    label: `${rhLevels[i]}%`,
    data: ws.map((w, j) => ({ x: curveTemps[j], y: w })),
    showLine: true,
    borderColor: "#000",
    borderWidth: 2,
    pointRadius: 0,
    cubicInterpolationMode: "monotone",
    clip: 0,
    order: 0,
  }));
  return {
    type: "scatter",
    data: {
      datasets: [
        {
          label: "observations",
          data: rowsToPoints(p.obs),
          pointStyle: "rectRot",
          pointRadius: 3.3,
          pointBackgroundColor: "#000",
          pointBorderWidth: 0,
          showLine: false,
          order: 1,
        },
        ...curveSets,
      ],
    },
    options: {
      animation: false,
      responsive: false,
      devicePixelRatio: 1,
      events: [],
      layout: { padding: p.padding },
      elements: { line: { capBezierPoints: false } },
      plugins: {
        legend: { display: false },
        tooltip: { enabled: false },
        title: {
          display: true,
          text: p.title,
          color: "#000",
          font: { family: FONT, size: 18, weight: "bold" },
          padding: p.titlePad,
        },
      },
      scales: {
        x: {
          type: "linear",
          min: tempMin,
          max: tempMax,
          border: { display: false },
          grid: { color: "#a6a6a6", lineWidth: 1, drawTicks: true, tickLength: 6, tickColor: "#000" },
          ticks: {
            stepSize: tempStep,
            color: "#000",
            font: { family: FONT, size: 18 },
            padding: p.tickPad,
            maxRotation: 0,
            autoSkip: false,
          },
          title: { display: false },
        },
        y: {
          type: "linear",
          min: humMin,
          max: humMax,
          border: { display: false },
          grid: { color: "#a6a6a6", lineWidth: 1, drawTicks: false },
          ticks: { display: false, stepSize: humStep },
        },
      },
    },
    plugins: [makeOverlay(p)],
  };
}

function PsyChart({ panel }: { panel: Panel }) {
  const ref = useRef<HTMLCanvasElement | null>(null);
  useEffect(() => {
    if (!ref.current) return;
    const chart = new Chart(ref.current, buildConfig(panel));
    return () => chart.destroy();
  }, [panel]);
  return (
    <canvas
      ref={ref}
      width={panel.width}
      height={491}
      style={{ position: "absolute", left: panel.left, top: 0, width: panel.width, height: 491 }}
    />
  );
}

export default function App() {
  return (
    <div style={{ position: "absolute", left: 0, top: 0, width: 1209, height: 491, background: "#fff" }}>
      {panels.map((p) => (
        <PsyChart key={p.title} panel={p} />
      ))}
    </div>
  );
}
